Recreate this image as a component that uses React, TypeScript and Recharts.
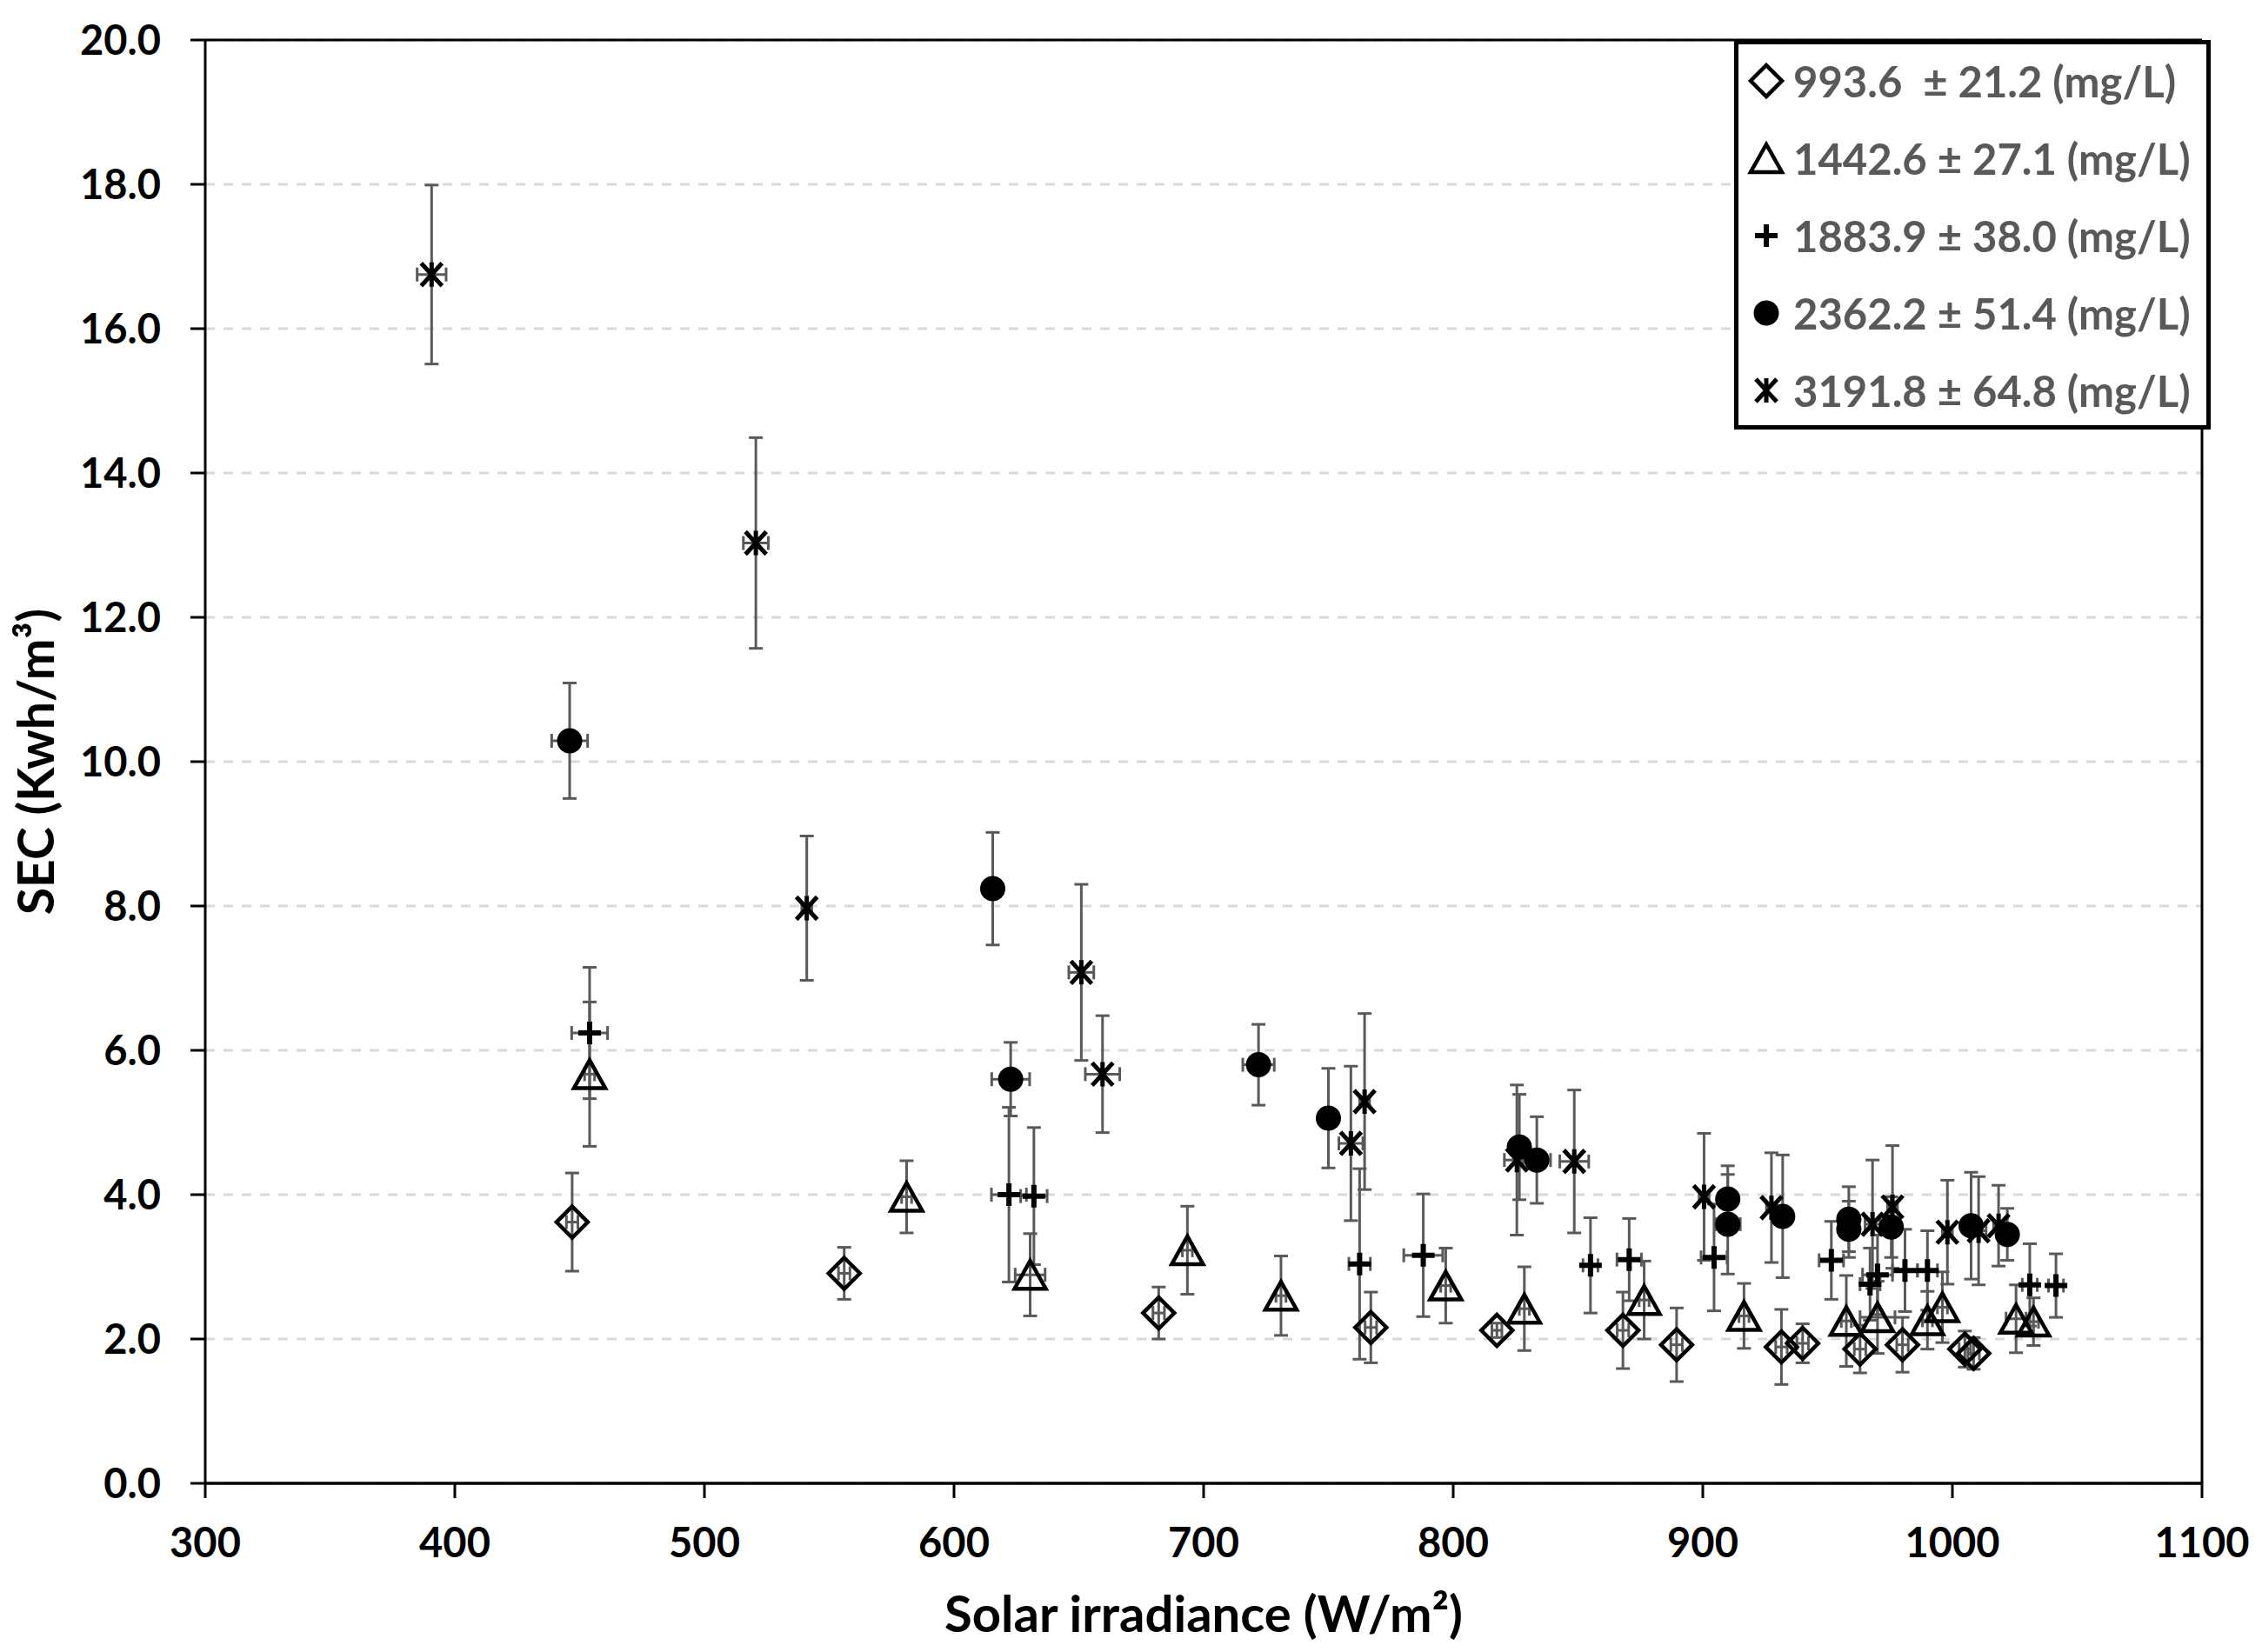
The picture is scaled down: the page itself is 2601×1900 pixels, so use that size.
import React from "react";
import {
  ScatterChart,
  Scatter,
  XAxis,
  YAxis,
  CartesianGrid,
  ErrorBar,
  ReferenceLine,
  Legend,
} from "recharts";

type Pt = { x: number; y: number; ey: number; ex: number };

const xTicks = [300, 400, 500, 600, 700, 800, 900, 1000, 1100];
const yTicks = [0, 2, 4, 6, 8, 10, 12, 14, 16, 18, 20];

const seriesLabels = [
  "993.6  \u00b1 21.2 (mg/L)",
  "1442.6 \u00b1 27.1 (mg/L)",
  "1883.9 \u00b1 38.0 (mg/L)",
  "2362.2 \u00b1 51.4 (mg/L)",
  "3191.8 \u00b1 64.8 (mg/L)",
];

// 993.6 mg/L - open diamonds
const feed994: Pt[] = [
  { x: 447, y: 3.62, ey: 0.68, ex: 2.3 },
  { x: 556, y: 2.91, ey: 0.36, ex: 2.3 },
  { x: 682, y: 2.36, ey: 0.36, ex: 2.3 },
  { x: 767, y: 2.16, ey: 0.49, ex: 2.3 },
  { x: 817.5, y: 2.12, ey: 0.1, ex: 2 },
  { x: 868, y: 2.12, ey: 0.53, ex: 2.3 },
  { x: 889.5, y: 1.92, ey: 0.51, ex: 2.3 },
  { x: 931.5, y: 1.89, ey: 0.52, ex: 2.3 },
  { x: 940, y: 1.94, ey: 0.27, ex: 2.3 },
  { x: 963, y: 1.86, ey: 0.33, ex: 2.3 },
  { x: 980, y: 1.92, ey: 0.38, ex: 2.3 },
  { x: 1005, y: 1.86, ey: 0.25, ex: 2.3 },
  { x: 1008.5, y: 1.8, ey: 0.22, ex: 2.3 },
];

// 1442.6 mg/L - open triangles
const feed1443: Pt[] = [
  { x: 454, y: 5.67, ey: 1.0, ex: 2 },
  { x: 581, y: 3.97, ey: 0.5, ex: 2 },
  { x: 630.5, y: 2.89, ey: 0.57, ex: 6 },
  { x: 693.5, y: 3.23, ey: 0.61, ex: 2 },
  { x: 731, y: 2.6, ey: 0.55, ex: 2 },
  { x: 797, y: 2.74, ey: 0.52, ex: 2 },
  { x: 828.5, y: 2.42, ey: 0.58, ex: 2 },
  { x: 876.5, y: 2.54, ey: 0.54, ex: 2 },
  { x: 916.5, y: 2.32, ey: 0.45, ex: 2 },
  { x: 957.5, y: 2.25, ey: 0.63, ex: 2 },
  { x: 970, y: 2.3, ey: 0.5, ex: 7 },
  { x: 990, y: 2.26, ey: 0.4, ex: 2 },
  { x: 996, y: 2.44, ey: 0.49, ex: 2 },
  { x: 1025.5, y: 2.28, ey: 0.47, ex: 4 },
  { x: 1032.5, y: 2.24, ey: 0.33, ex: 2 },
];

// 1883.9 mg/L - plus signs
const feed1884: Pt[] = [
  { x: 454, y: 6.24, ey: 0.91, ex: 7.2 },
  { x: 622, y: 4.0, ey: 1.21, ex: 7 },
  { x: 632, y: 3.98, ey: 0.95, ex: 5.3 },
  { x: 762.5, y: 3.04, ey: 1.32, ex: 4.3 },
  { x: 788, y: 3.16, ey: 0.85, ex: 7.8 },
  { x: 855, y: 3.02, ey: 0.66, ex: 3 },
  { x: 870.5, y: 3.1, ey: 0.57, ex: 4.9 },
  { x: 904.5, y: 3.13, ey: 0.74, ex: 5.2 },
  { x: 951.5, y: 3.09, ey: 0.54, ex: 4.9 },
  { x: 967, y: 2.76, ey: 0.5, ex: 4 },
  { x: 970, y: 2.89, ey: 0.55, ex: 6 },
  { x: 981, y: 2.95, ey: 0.57, ex: 5 },
  { x: 990, y: 2.95, ey: 0.55, ex: 4 },
  { x: 1031, y: 2.75, ey: 0.57, ex: 3 },
  { x: 1041.5, y: 2.74, ey: 0.44, ex: 3 },
];

// 2362.2 mg/L - filled circles
const feed2362: Pt[] = [
  { x: 446, y: 10.29, ey: 0.8, ex: 7.2 },
  { x: 615.5, y: 8.24, ey: 0.78, ex: 3 },
  { x: 622.7, y: 5.6, ey: 0.51, ex: 7.6 },
  { x: 722, y: 5.8, ey: 0.56, ex: 6.3 },
  { x: 750, y: 5.06, ey: 0.69, ex: 3 },
  { x: 826.5, y: 4.66, ey: 0.73, ex: 3 },
  { x: 833.5, y: 4.48, ey: 0.6, ex: 5.5 },
  { x: 910, y: 3.94, ey: 0.46, ex: 3 },
  { x: 910, y: 3.59, ey: 0.69, ex: 5 },
  { x: 932, y: 3.7, ey: 0.85, ex: 3 },
  { x: 958.5, y: 3.66, ey: 0.45, ex: 3 },
  { x: 958.5, y: 3.52, ey: 0.39, ex: 3 },
  { x: 975.5, y: 3.55, ey: 0.42, ex: 3 },
  { x: 1007.5, y: 3.57, ey: 0.74, ex: 3 },
  { x: 1022, y: 3.45, ey: 0.36, ex: 3 },
];

// 3191.8 mg/L - asterisks
const feed3192: Pt[] = [
  { x: 390.7, y: 16.75, ey: 1.24, ex: 5.8 },
  { x: 520.6, y: 13.03, ey: 1.46, ex: 5 },
  { x: 541, y: 7.97, ey: 1.0, ex: 2 },
  { x: 651, y: 7.08, ey: 1.22, ex: 5 },
  { x: 659.5, y: 5.67, ey: 0.81, ex: 6.9 },
  { x: 759, y: 4.71, ey: 1.07, ex: 4.8 },
  { x: 764.5, y: 5.29, ey: 1.22, ex: 2 },
  { x: 825.5, y: 4.48, ey: 1.04, ex: 5 },
  { x: 848.5, y: 4.46, ey: 0.99, ex: 5.8 },
  { x: 900.5, y: 3.97, ey: 0.88, ex: 2 },
  { x: 927.5, y: 3.82, ey: 0.76, ex: 2 },
  { x: 968, y: 3.59, ey: 0.89, ex: 3 },
  { x: 976, y: 3.83, ey: 0.85, ex: 2 },
  { x: 998, y: 3.48, ey: 0.72, ex: 2 },
  { x: 1010.5, y: 3.5, ey: 0.75, ex: 3 },
  { x: 1018.5, y: 3.57, ey: 0.56, ex: 2 },
];

const FONT = "Lato, 'Open Sans', sans-serif";
const ERR = "#595959";

const Diamond = ({ cx, cy }: any) => (
  <path
    d={`M${cx},${cy - 18} L${cx + 18},${cy} L${cx},${cy + 18} L${cx - 18},${cy} Z`}
    fill="none"
    stroke="#000"
    strokeWidth={4.5}
  />
);

const Triangle = ({ cx, cy }: any) => (
  <path
    d={`M${cx},${cy - 16} L${cx + 18},${cy + 16} L${cx - 18},${cy + 16} Z`}
    fill="none"
    stroke="#000"
    strokeWidth={4.5}
  />
);

const Plus = ({ cx, cy }: any) => (
  <path
    d={`M${cx - 13},${cy} H${cx + 13} M${cx},${cy - 13} V${cy + 13}`}
    stroke="#000"
    strokeWidth={6}
  />
);

const Dot = ({ cx, cy }: any) => <circle cx={cx} cy={cy} r={14.5} fill="#000" />;

const Star = ({ cx, cy }: any) => (
  <path
    d={`M${cx - 12},${cy - 13} L${cx + 12},${cy + 13} M${cx + 12},${cy - 13} L${cx - 12},${cy + 13} M${cx},${cy - 14} V${cy + 14}`}
    stroke="#000"
    strokeWidth={5}
  />
);

const markers = [Diamond, Triangle, Plus, Dot, Star];
const seriesData = [feed994, feed1443, feed1884, feed2362, feed3192];

const LegendBox = () => (
  <svg width={548} height={448} style={{ display: "block" }}>
    <rect x={2.5} y={2.5} width={543} height={443} fill="#fff" stroke="#000" strokeWidth={5} />
    {seriesLabels.map((label, i) => {
      const Marker = markers[i];
      const cy = 47 + i * 89;
      return (
        <g key={label}>
          <Marker cx={37} cy={cy} />
          <text
            x={68}
            y={cy}
            dominantBaseline="central"
            fontFamily={FONT}
            fontWeight={700}
            fontSize={49}
            fill="#595959"
            style={{ whiteSpace: "pre" }}
          >
            {label}
          </text>
        </g>
      );
    })}
  </svg>
);

const XTitle = () => (
  <text x={1384} y={1877} textAnchor="middle" fontFamily={FONT} fontWeight={700} fontSize={58} fill="#000">
    Solar irradiance (W/m²)
  </text>
);

const YTitle = () => (
  <text
    x={62}
    y={876}
    transform="rotate(-90 62 876)"
    textAnchor="middle"
    fontFamily={FONT}
    fontWeight={700}
    fontSize={57}
    fill="#000"
  >
    SEC (Kwh/m³)
  </text>
);

const tickStyle = { fontFamily: FONT, fontWeight: 700, fontSize: 47, fill: "#000" };

export default function App() {
  return (
    <div style={{ position: "absolute", left: 0, top: 0, width: 2601, height: 1900, background: "#fff" }}>
      <ScatterChart width={2601} height={1900} margin={{ top: 46, right: 69, bottom: 0, left: 0 }}>
        <CartesianGrid
          vertical={false}
          stroke="#d9d9d9"
          strokeWidth={3}
          strokeDasharray="11 10"
        />
        <XAxis
          type="number"
          dataKey="x"
          domain={[300, 1100]}
          ticks={xTicks}
          interval={0}
          height={194}
          tick={tickStyle}
          tickSize={17}
          tickMargin={35}
          tickLine={{ stroke: "#000", strokeWidth: 3 }}
          axisLine={{ stroke: "#000", strokeWidth: 3.5 }}
          label={<XTitle />}
        />
        <YAxis
          type="number"
          dataKey="y"
          domain={[0, 20]}
          ticks={yTicks}
          interval={0}
          width={236}
          tick={tickStyle}
          tickSize={17}
          tickMargin={34}
          tickFormatter={(v: number) => v.toFixed(1)}
          tickLine={{ stroke: "#000", strokeWidth: 3 }}
          axisLine={{ stroke: "#000", strokeWidth: 3 }}
          label={<YTitle />}
        />
        <ReferenceLine y={20} stroke="#000" strokeWidth={3} />
        <ReferenceLine x={1100} stroke="#000" strokeWidth={3} />
        {seriesData.map((data, i) => {
          const Marker = markers[i];
          return (
            <Scatter
              key={seriesLabels[i]}
              name={seriesLabels[i]}
              data={data}
              isAnimationActive={false}
              shape={(p: any) => <Marker cx={p.cx} cy={p.cy} />}
            >
              <ErrorBar dataKey="ey" direction="y" width={8} stroke={ERR} strokeWidth={3} isAnimationActive={false} />
              <ErrorBar dataKey="ex" direction="x" width={8} stroke={ERR} strokeWidth={3} isAnimationActive={false} />
            </Scatter>
          );
        })}
        <Legend
          layout="vertical"
          align="center"
          verticalAlign="middle"
          wrapperStyle={{ left: 1994, top: 46, width: 548, height: 448 }}
          content={() => <LegendBox />}
        />
      </ScatterChart>
    </div>
  );
}
